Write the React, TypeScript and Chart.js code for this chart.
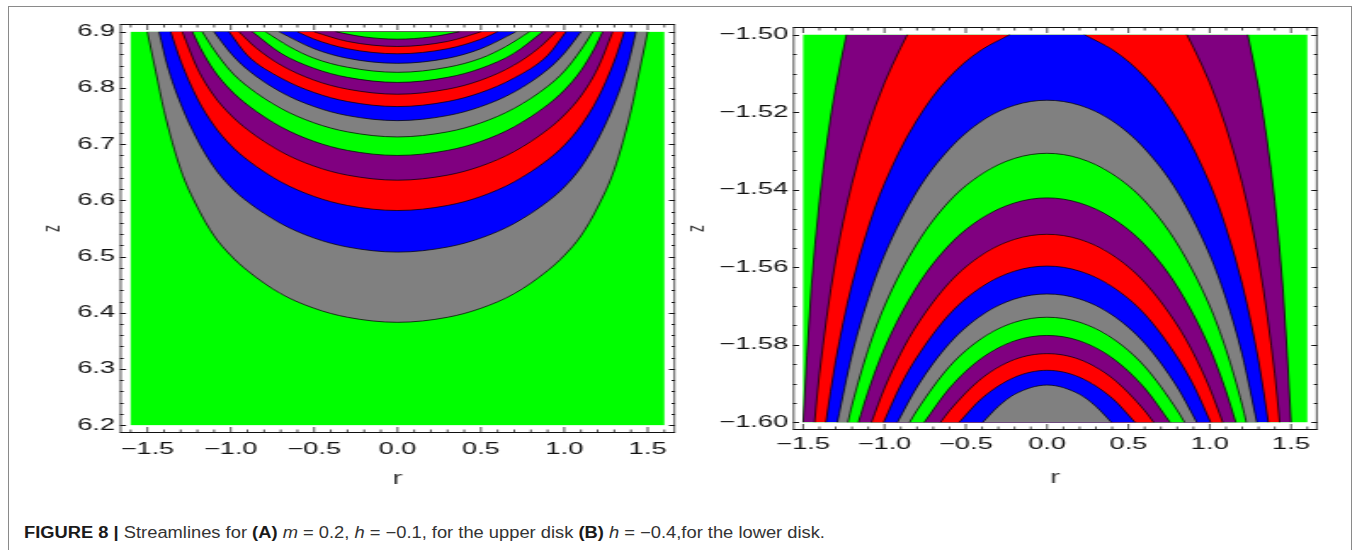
import React, { useEffect, useRef } from 'react';
import { Chart, registerables } from 'chart.js';

Chart.register(...registerables);

// ---- colours of the contour bands ----
const GREEN = '#00ff00';
const GRAY = '#808080';
const BLUE = '#0000ff';
const RED = '#ff0000';
const PURPLE = '#800080';

// ================= (A) upper disk =================
const A_R_RANGE = [-1.6, 1.6];
const A_Z_RANGE = [6.2, 6.9];
const A_R_TICKS = [-1.5, -1.0, -0.5, 0, 0.5, 1.0, 1.5];
const A_R_LABELS = ['−1.5', '−1.0', '−0.5', '0.0', '0.5', '1.0', '1.5'];
const A_Z_TICKS = [6.2, 6.3, 6.4, 6.5, 6.6, 6.7, 6.8, 6.9];
const A_Z_LABELS = ['6.2', '6.3', '6.4', '6.5', '6.6', '6.7', '6.8', '6.9'];

// contour boundaries (right half, [r, z]), outer -> inner
const A_C1 = [[0, 6.383], [0.3, 6.392], [0.5, 6.408], [0.7, 6.434], [0.9, 6.475], [1.0, 6.502], [1.1, 6.537], [1.2, 6.588], [1.3, 6.655], [1.4, 6.76], [1.45, 6.83], [1.5, 6.9]];
const A_C2 = [[0, 6.508], [0.3, 6.517], [0.5, 6.533], [0.7, 6.559], [0.9, 6.598], [1.0, 6.624], [1.1, 6.659], [1.2, 6.708], [1.3, 6.772], [1.38, 6.84], [1.43, 6.9]];
const A_C3 = [[0, 6.582], [0.3, 6.591], [0.5, 6.607], [0.7, 6.633], [0.9, 6.672], [1.0, 6.698], [1.1, 6.733], [1.2, 6.781], [1.3, 6.848], [1.36, 6.9]];
const A_C4 = [[0, 6.636], [0.3, 6.645], [0.5, 6.661], [0.7, 6.687], [0.9, 6.726], [1.0, 6.752], [1.1, 6.786], [1.2, 6.835], [1.29, 6.9]];
const A_C5 = [[0, 6.68], [0.3, 6.689], [0.5, 6.705], [0.7, 6.731], [0.9, 6.77], [1.0, 6.796], [1.1, 6.831], [1.18, 6.87], [1.23, 6.9]];
const A_C6 = [[0, 6.713], [0.3, 6.722], [0.5, 6.738], [0.7, 6.764], [0.9, 6.803], [1.0, 6.83], [1.1, 6.868], [1.17, 6.9]];
const A_C7 = [[0, 6.742], [0.3, 6.751], [0.5, 6.767], [0.7, 6.793], [0.9, 6.833], [1.0, 6.862], [1.1, 6.9]];
const A_C8 = [[0, 6.767], [0.3, 6.776], [0.5, 6.792], [0.7, 6.818], [0.9, 6.858], [1.01, 6.9]];
const A_C9 = [[0, 6.789], [0.3, 6.798], [0.5, 6.814], [0.7, 6.841], [0.85, 6.872], [0.95, 6.9]];
const A_C10 = [[0, 6.81], [0.3, 6.819], [0.5, 6.835], [0.7, 6.862], [0.87, 6.9]];
const A_C11 = [[0, 6.828], [0.3, 6.837], [0.5, 6.853], [0.65, 6.874], [0.79, 6.9]];
const A_C12 = [[0, 6.844], [0.3, 6.853], [0.5, 6.87], [0.71, 6.9]];
const A_C13 = [[0, 6.861], [0.3, 6.87], [0.5, 6.887], [0.6, 6.9]];
const A_C14 = [[0, 6.874], [0.3, 6.883], [0.5, 6.9]];
const A_C15 = [[0, 6.887], [0.2, 6.891], [0.37, 6.9]];
const A_CURVES = [A_C1, A_C2, A_C3, A_C4, A_C5, A_C6, A_C7, A_C8, A_C9, A_C10, A_C11, A_C12, A_C13, A_C14, A_C15];
const A_COLORS = [GRAY, BLUE, RED, PURPLE, GREEN, GRAY, BLUE, RED, PURPLE, GREEN, GRAY, BLUE, RED, PURPLE, GREEN];

// ================= (B) lower disk =================
const B_R_RANGE = [-1.5, 1.6];
const B_Z_RANGE = [-1.6, -1.5];
const B_R_TICKS = [-1.5, -1.0, -0.5, 0, 0.5, 1.0, 1.5];
const B_R_LABELS = ['−1.5', '−1.0', '−0.5', '0.0', '0.5', '1.0', '1.5'];
const B_Z_TICKS = [-1.6, -1.58, -1.56, -1.54, -1.52, -1.5];
const B_Z_LABELS = ['−1.60', '−1.58', '−1.56', '−1.54', '−1.52', '−1.50'];

// outer three boundaries leave through the top edge (no vertex inside the plot)
const B_C1 = [[1.234, -1.5], [1.3, -1.5136], [1.35, -1.5266], [1.4, -1.543], [1.45, -1.5654], [1.5, -1.6]];
const B_C2 = [[0.86, -1.5], [0.9, -1.5033], [1.0, -1.5124], [1.1, -1.5238], [1.2, -1.5384], [1.3, -1.5581], [1.4, -1.5875], [1.43, -1.6]];
const B_C3 = [[0.23, -1.5], [0.4, -1.5038], [0.6, -1.5109], [0.8, -1.522], [1.0, -1.5384], [1.1, -1.5498], [1.2, -1.5644], [1.3, -1.5841], [1.36, -1.6]];
const B_C4 = [[0, -1.5169], [0.2, -1.5182], [0.4, -1.5222], [0.6, -1.5294], [0.8, -1.5404], [1.0, -1.5568], [1.1, -1.5681], [1.2, -1.5826], [1.29, -1.6]];
const B_C5 = [[0, -1.5306], [0.2, -1.5319], [0.4, -1.5359], [0.6, -1.5429], [0.8, -1.5539], [1.0, -1.57], [1.1, -1.5812], [1.2, -1.5956], [1.225, -1.6]];
const B_C6 = [[0, -1.5421], [0.2, -1.5434], [0.4, -1.5473], [0.6, -1.5542], [0.8, -1.565], [1.0, -1.5809], [1.1, -1.592], [1.16, -1.6]];
const B_C7 = [[0, -1.5515], [0.2, -1.5528], [0.4, -1.5568], [0.6, -1.5639], [0.8, -1.5749], [0.9, -1.5822], [1.0, -1.5912], [1.08, -1.6]];
const B_C8 = [[0, -1.5597], [0.2, -1.561], [0.4, -1.565], [0.6, -1.5721], [0.8, -1.5832], [0.9, -1.5904], [1.005, -1.6]];
const B_C9 = [[0, -1.5669], [0.2, -1.5682], [0.4, -1.5723], [0.6, -1.5796], [0.8, -1.5909], [0.92, -1.6]];
const B_C10 = [[0, -1.5729], [0.2, -1.5742], [0.4, -1.5783], [0.6, -1.5856], [0.8, -1.5969], [0.845, -1.6]];
const B_C11 = [[0, -1.5776], [0.2, -1.579], [0.4, -1.5834], [0.6, -1.5912], [0.755, -1.6]];
const B_C12 = [[0, -1.5823], [0.2, -1.5838], [0.4, -1.5886], [0.6, -1.597], [0.655, -1.6]];
const B_C13 = [[0, -1.5866], [0.2, -1.5884], [0.4, -1.5938], [0.54, -1.6]];
const B_C14 = [[0, -1.5904], [0.2, -1.5928], [0.3, -1.5959], [0.395, -1.6]];
const B_CURVES = [B_C1, B_C2, B_C3, B_C4, B_C5, B_C6, B_C7, B_C8, B_C9, B_C10, B_C11, B_C12, B_C13, B_C14];
const B_COLORS = [PURPLE, RED, BLUE, GRAY, GREEN, PURPLE, RED, BLUE, GRAY, GREEN, PURPLE, RED, BLUE, GRAY];

// horizontal stretch of the Mathematica panels (the figure is widened)
const S = 1.7;
const LINE = 'rgba(0,0,0,0.8)';
const TICK_FONT = { family: '"Liberation Sans", Arial, sans-serif', size: 16 };

type PanelCfg = {
  rRange: number[];
  zRange: number[];
  rTicks: number[];
  rLabels: string[];
  zTicks: number[];
  zLabels: string[];
  rMinorStep: number;
  zMinorStep: number;
  curves: number[][][];
  colors: string[];
  fillTo: number;
  width: number;
  height: number;
  frameLeft: number;
  frameRight: number;
  frameTop: number;
  frameBottom: number;
  zTitleX: number;
  rTitlePad: number;
  xTickPad: number;
};

// mirror a right-half contour into a full left-to-right polyline
function mirror(half: number[][]) {
  const left = half.filter((p) => p[0] > 0).map(([r, z]) => ({ x: -r, y: z })).reverse();
  const right = half.map(([r, z]) => ({ x: r, y: z }));
  return [...left, ...right];
}

function buildDatasets(cfg: PanelCfg) {
  const out: any[] = [];
  const n = cfg.curves.length;
  cfg.curves.forEach((c, i) => {
    const base = (n - i) * 2;
    const common = {
      borderColor: LINE,
      borderWidth: 0.9,
      pointRadius: 0,
      cubicInterpolationMode: 'monotone',
    };
    if (c[0][0] === 0) {
      // closed cap: vertex inside the plot
      out.push({ ...common, data: mirror(c), fill: { value: cfg.fillTo }, backgroundColor: cfg.colors[i], order: base });
    } else {
      // two branches running bottom -> top; region between them is the band
      const asc = [...c].reverse();
      out.push({
        ...common,
        indexAxis: 'y',
        data: asc.map(([r, z]) => ({ x: -r, y: z })),
        fill: '+1',
        backgroundColor: cfg.colors[i],
        order: base + 1,
      });
      out.push({ ...common, indexAxis: 'y', data: asc.map(([r, z]) => ({ x: r, y: z })), fill: false, order: base });
    }
  });
  return out;
}

function framePlugin(cfg: PanelCfg) {
  return {
    id: 'mmaFrame',
    beforeDatasetsDraw(chart: any) {
      const { ctx, scales } = chart;
      const x = scales.x;
      const y = scales.y;
      const x0 = x.getPixelForValue(cfg.rRange[0]);
      const x1 = x.getPixelForValue(cfg.rRange[1]);
      const y0 = y.getPixelForValue(cfg.zRange[1]);
      const y1 = y.getPixelForValue(cfg.zRange[0]);
      ctx.save();
      ctx.fillStyle = GREEN;
      ctx.fillRect(x0, y0, x1 - x0, y1 - y0);
      ctx.restore();
    },
    afterDatasetsDraw(chart: any) {
      const { ctx, chartArea: a, scales } = chart;
      const x = scales.x;
      const y = scales.y;
      const MAJ = 6;
      const MIN = 3.5;
      ctx.save();
      ctx.strokeStyle = '#111';
      // horizontal strokes: frame top/bottom + ticks on left/right sides
      ctx.lineWidth = 1;
      ctx.beginPath();
      ctx.moveTo(a.left, a.top + 0.5);
      ctx.lineTo(a.right, a.top + 0.5);
      ctx.moveTo(a.left, a.bottom - 0.5);
      ctx.lineTo(a.right, a.bottom - 0.5);
      const ht = (v: number, len: number) => {
        const py = Math.round(y.getPixelForValue(v)) + 0.5;
        ctx.moveTo(a.left, py);
        ctx.lineTo(a.left + len / S, py);
        ctx.moveTo(a.right, py);
        ctx.lineTo(a.right - len / S, py);
      };
      cfg.zTicks.forEach((v) => ht(v, MAJ));
      const nZ = Math.round((cfg.zRange[1] - cfg.zRange[0]) / cfg.zMinorStep);
      for (let i = 0; i <= nZ; i++) {
        const v = cfg.zRange[0] + i * cfg.zMinorStep;
        if (!cfg.zTicks.some((t) => Math.abs(t - v) < 1e-6)) ht(v, MIN);
      }
      ctx.stroke();
      // vertical strokes: frame left/right + ticks on top/bottom sides
      ctx.lineWidth = 1.25 / S;
      ctx.beginPath();
      const w = 0.6 / S;
      ctx.moveTo(a.left + w, a.top);
      ctx.lineTo(a.left + w, a.bottom);
      ctx.moveTo(a.right - w, a.top);
      ctx.lineTo(a.right - w, a.bottom);
      const vt = (v: number, len: number) => {
        const px = x.getPixelForValue(v);
        ctx.moveTo(px, a.bottom);
        ctx.lineTo(px, a.bottom - len);
        ctx.moveTo(px, a.top);
        ctx.lineTo(px, a.top + len);
      };
      cfg.rTicks.forEach((v) => vt(v, MAJ));
      const nR = Math.round((cfg.rRange[1] - cfg.rRange[0]) / cfg.rMinorStep);
      for (let i = 0; i <= nR; i++) {
        const v = cfg.rRange[0] + i * cfg.rMinorStep;
        if (!cfg.rTicks.some((t) => Math.abs(t - v) < 1e-6)) vt(v, MIN);
      }
      ctx.stroke();
      ctx.restore();
    },
  };
}

function Panel({ cfg, left }: { cfg: PanelCfg; left: number }) {
  const ref = useRef<HTMLCanvasElement | null>(null);
  const cw = Math.round(cfg.width / S);
  useEffect(() => {
    if (!ref.current) return;
    const rPad = 0.02 * (cfg.rRange[1] - cfg.rRange[0]);
    const zPad = 0.02 * (cfg.zRange[1] - cfg.zRange[0]);
    const chart = new Chart(ref.current, {
      type: 'line',
      data: { datasets: buildDatasets(cfg) },
      options: {
        animation: false,
        responsive: false,
        devicePixelRatio: 1,
        events: [],
        layout: { padding: { top: cfg.frameTop, right: cw - cfg.frameRight / S, left: 0, bottom: 0 } },
        plugins: { legend: { display: false }, tooltip: { enabled: false } },
        scales: {
          x: {
            type: 'linear',
            min: cfg.rRange[0] - rPad,
            max: cfg.rRange[1] + rPad,
            afterBuildTicks: (s: any) => {
              s.ticks = cfg.rTicks.map((v) => ({ value: v }));
            },
            afterFit: (s: any) => {
              s.height = cfg.height - cfg.frameBottom;
            },
            ticks: {
              autoSkip: false,
              maxRotation: 0,
              padding: cfg.xTickPad,
              color: '#111',
              font: TICK_FONT,
              callback: (_v: any, i: number) => cfg.rLabels[i],
            },
            grid: { display: false, drawTicks: false },
            border: { display: false },
            title: {
              display: true,
              text: 'r',
              color: '#3a3a3a',
              font: { family: '"Liberation Sans", Arial, sans-serif', size: 18 },
              padding: { top: 0, bottom: cfg.rTitlePad },
            },
          },
          y: {
            type: 'linear',
            min: cfg.zRange[0] - zPad,
            max: cfg.zRange[1] + zPad,
            afterBuildTicks: (s: any) => {
              s.ticks = cfg.zTicks.map((v) => ({ value: v }));
            },
            afterFit: (s: any) => {
              s.width = cfg.frameLeft / S;
            },
            ticks: {
              autoSkip: false,
              padding: 5 / S,
              color: '#111',
              font: TICK_FONT,
              callback: (_v: any, i: number) => cfg.zLabels[i],
            },
            grid: { display: false, drawTicks: false },
            border: { display: false },
            title: {
              display: true,
              text: 'z',
              color: '#3a3a3a',
              font: { family: '"Liberation Sans", Arial, sans-serif', size: 14 },
              padding: { top: cfg.zTitleX / S - 8.4, bottom: 0 },
            },
          },
        },
      } as any,
      plugins: [framePlugin(cfg)],
    });
    return () => chart.destroy();
  }, [cfg, cw]);
  return (
    <canvas
      ref={ref}
      width={cw}
      height={cfg.height}
      style={{ position: 'absolute', left, top: 0, width: cw * S, height: cfg.height }}
    />
  );
}

const A_CFG: PanelCfg = {
  rRange: A_R_RANGE,
  zRange: A_Z_RANGE,
  rTicks: A_R_TICKS,
  rLabels: A_R_LABELS,
  zTicks: A_Z_TICKS,
  zLabels: A_Z_LABELS,
  rMinorStep: 0.1,
  zMinorStep: 0.02,
  curves: A_CURVES,
  colors: A_COLORS,
  fillTo: A_Z_RANGE[1],
  width: 680,
  height: 500,
  frameLeft: 120,
  frameRight: 675,
  frameTop: 24,
  frameBottom: 433,
  zTitleX: 53,
  rTitlePad: 10,
  xTickPad: 6.5,
};

const B_CFG: PanelCfg = {
  rRange: B_R_RANGE,
  zRange: B_Z_RANGE,
  rTicks: B_R_TICKS,
  rLabels: B_R_LABELS,
  zTicks: B_Z_TICKS,
  zLabels: B_Z_LABELS,
  rMinorStep: 0.1,
  zMinorStep: 0.005,
  curves: B_CURVES,
  colors: B_COLORS,
  fillTo: B_Z_RANGE[0],
  width: 676,
  height: 500,
  frameLeft: 113,
  frameRight: 637,
  frameTop: 27,
  frameBottom: 430,
  zTitleX: 17,
  rTitlePad: 11,
  xTickPad: 4.8,
};

export default function App() {
  return (
    <div style={{ position: 'absolute', left: 0, top: 0, width: 1356, height: 550, overflow: 'hidden', background: '#fff' }}>
      <div
        style={{
          position: 'absolute',
          left: 8,
          top: 6,
          width: 1344,
          height: 600,
          border: '1px solid #8a8a8a',
          boxSizing: 'border-box',
        }}
      />
      <Panel cfg={A_CFG} left={0} />
      <Panel cfg={B_CFG} left={680} />
      <div
        style={{
          position: 'absolute',
          left: 24,
          top: 524,
          fontFamily: '"Liberation Sans", Arial, sans-serif',
          fontSize: 16,
          lineHeight: '18px',
          color: '#333',
          whiteSpace: 'nowrap',
          transform: 'scaleX(1.145)',
          transformOrigin: '0 0',
        }}
      >
        <b style={{ color: '#1a1a1a' }}>FIGURE 8 | </b>Streamlines for <b style={{ color: '#1a1a1a' }}>(A)</b> <i>m</i> = 0.2, <i>h</i> = −0.1, for the upper disk{' '}
        <b style={{ color: '#1a1a1a' }}>(B)</b> <i>h</i> = −0.4,for the lower disk.
      </div>
    </div>
  );
}
